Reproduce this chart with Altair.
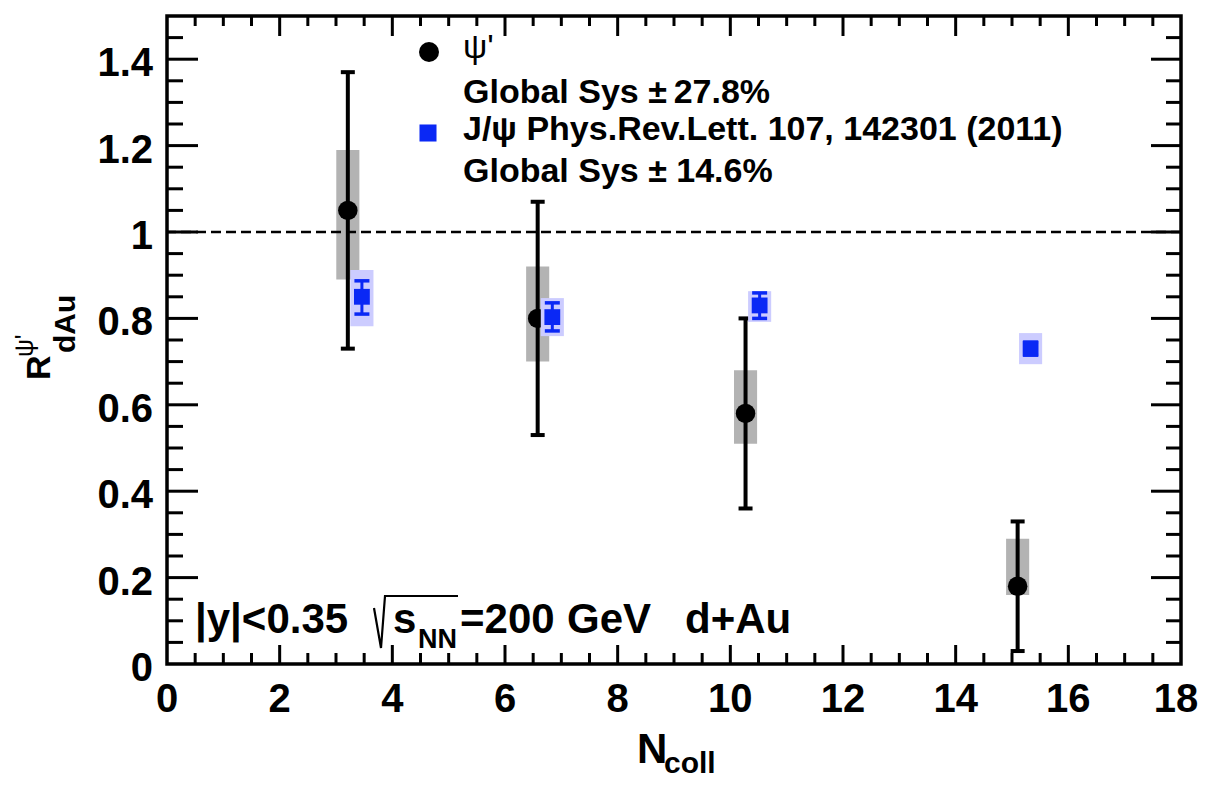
import altair as alt
import pandas as pd

# ---------------- data ----------------
ncoll_psi2s = [3.21, 6.58, 10.27, 15.10]
raa_psi2s = [1.05, 0.80, 0.58, 0.18]
stat_lo_psi2s = [0.73, 0.53, 0.36, 0.03]
stat_hi_psi2s = [1.37, 1.07, 0.80, 0.33]
sys_lo_psi2s = [0.89, 0.70, 0.51, 0.16]
sys_hi_psi2s = [1.19, 0.92, 0.68, 0.29]

ncoll_jpsi = [3.46, 6.84, 10.52, 15.33]
raa_jpsi = [0.85, 0.803, 0.83, 0.73]
stat_lo_jpsi = [0.81, 0.771, 0.80, 0.715]
stat_hi_jpsi = [0.887, 0.836, 0.859, 0.745]
sys_lo_jpsi = [0.782, 0.759, 0.792, 0.694]
sys_hi_jpsi = [0.912, 0.847, 0.863, 0.766]

x_major = [0, 2, 4, 6, 8, 10, 12, 14, 16, 18]
x_labels = ["0", "2", "4", "6", "8", "10", "12", "14", "16", "18"]
y_major = [0, 0.2, 0.4, 0.6, 0.8, 1.0, 1.2, 1.4]
y_labels = ["0", "0.2", "0.4", "0.6", "0.8", "1", "1.2", "1.4"]
unity = [1.0]

# ---------------- styling constants ----------------
W, H = 1014, 648
FONT = "Liberation Sans"
SYS_HALF = 0.205
BLUE = "#0a28f5"
LBLUE = "#ccccff"
GRAY = "#b3b3b3"

xs = alt.Scale(domain=[0, 18], nice=False, zero=False)
ys = alt.Scale(domain=[0, 1.5], nice=False, zero=False)

psi = pd.DataFrame({
    "x": ncoll_psi2s, "y": raa_psi2s,
    "lo": stat_lo_psi2s, "hi": stat_hi_psi2s,
    "slo": sys_lo_psi2s, "shi": sys_hi_psi2s,
})
psi["x1"] = psi["x"] - SYS_HALF
psi["x2"] = psi["x"] + SYS_HALF

jp = pd.DataFrame({
    "x": ncoll_jpsi, "y": raa_jpsi,
    "lo": stat_lo_jpsi, "hi": stat_hi_jpsi,
    "slo": sys_lo_jpsi, "shi": sys_hi_jpsi,
})
jp["x1"] = jp["x"] - SYS_HALF
jp["x2"] = jp["x"] + SYS_HALF

X = lambda f: alt.X(f"{f}:Q", scale=xs, axis=None)
Y = lambda f: alt.Y(f"{f}:Q", scale=ys, axis=None)

layers = []

# systematic boxes psi'
layers.append(alt.Chart(psi).mark_rect(color=GRAY, opacity=1).encode(
    x=X("x1"), x2="x2", y=Y("slo"), y2="shi"))
# stat error psi'
layers.append(alt.Chart(psi).mark_rule(color="black", strokeWidth=4).encode(
    x=X("x"), y=Y("lo"), y2="hi"))
layers.append(alt.Chart(psi).mark_tick(orient="horizontal", size=14, thickness=4,
                                       color="black", opacity=1).encode(x=X("x"), y=Y("lo")))
layers.append(alt.Chart(psi).mark_tick(orient="horizontal", size=14, thickness=4,
                                       color="black", opacity=1).encode(x=X("x"), y=Y("hi")))
layers.append(alt.Chart(psi).mark_circle(size=380, color="black", opacity=1).encode(
    x=X("x"), y=Y("y")))

# J/psi
layers.append(alt.Chart(jp).mark_rect(color=LBLUE, opacity=1).encode(
    x=X("x1"), x2="x2", y=Y("slo"), y2="shi"))
layers.append(alt.Chart(jp).mark_rule(color=BLUE, strokeWidth=3).encode(
    x=X("x"), y=Y("lo"), y2="hi"))
layers.append(alt.Chart(jp).mark_tick(orient="horizontal", size=15, thickness=3.5,
                                      color=BLUE, opacity=1).encode(x=X("x"), y=Y("lo")))
layers.append(alt.Chart(jp).mark_tick(orient="horizontal", size=15, thickness=3.5,
                                      color=BLUE, opacity=1).encode(x=X("x"), y=Y("hi")))
layers.append(alt.Chart(jp).mark_square(size=250, color=BLUE, opacity=1).encode(
    x=X("x"), y=Y("y")))

# dashed unity line
layers.append(alt.Chart(pd.DataFrame({"y": unity})).mark_rule(
    color="black", strokeWidth=2.5, strokeDash=[10, 5]).encode(y=Y("y")))

# ---------------- frame ticks ----------------
x_minor = [i * 0.5 for i in range(1, 36) if i % 4 != 0]
y_minor = [i * 0.05 for i in range(1, 30) if i % 4 != 0]
dxM = pd.DataFrame({"x": x_major[1:-1]})
dxm = pd.DataFrame({"x": x_minor})
dyM = pd.DataFrame({"y": y_major[1:]})
dym = pd.DataFrame({"y": y_minor})
TW = 3
for df, ln in ((dxM, 19), (dxm, 11)):
    layers.append(alt.Chart(df).mark_rule(color="black", strokeWidth=TW).encode(
        x=X("x"), y=alt.value(H), y2=alt.value(H - ln)))
for df, ln in ((dxM, 20), (dxm, 10)):
    layers.append(alt.Chart(df).mark_rule(color="black", strokeWidth=TW).encode(
        x=X("x"), y=alt.value(0), y2=alt.value(ln)))
for df, ln in ((dyM, 31), (dym, 16)):
    layers.append(alt.Chart(df).mark_rule(color="black", strokeWidth=TW).encode(
        y=Y("y"), x=alt.value(0), x2=alt.value(ln)))
for df, ln in ((dyM, 30), (dym, 15)):
    layers.append(alt.Chart(df).mark_rule(color="black", strokeWidth=TW).encode(
        y=Y("y"), x=alt.value(W), x2=alt.value(W - ln)))

# tick labels
xl = pd.DataFrame({"x": x_major, "t": x_labels})
layers.append(alt.Chart(xl.iloc[:-1]).mark_text(
    font=FONT, fontWeight="bold", fontSize=40, align="center", baseline="alphabetic",
    color="black").encode(x=X("x"), y=alt.value(H + 48), text="t:N"))
layers.append(alt.Chart(xl.iloc[-1:]).mark_text(
    font=FONT, fontWeight="bold", fontSize=40, align="center", baseline="alphabetic",
    dx=-5, color="black").encode(x=X("x"), y=alt.value(H + 48), text="t:N"))
layers.append(alt.Chart(pd.DataFrame({"y": y_major, "t": y_labels})).mark_text(
    font=FONT, fontWeight="bold", fontSize=40, align="right", baseline="alphabetic",
    dy=17, color="black").encode(y=Y("y"), x=alt.value(-14), text="t:N"))


def txt(t, x, y, size, weight="bold", angle=0, color="black"):
    return alt.Chart(pd.DataFrame({"t": [t]})).mark_text(
        font=FONT, fontWeight=weight, fontSize=size, align="left",
        baseline="alphabetic", angle=angle, color=color).encode(
        x=alt.value(x), y=alt.value(y), text="t:N")


# legend
one = pd.DataFrame({"a": [0]})
layers.append(alt.Chart(one).mark_circle(size=400, color="black", opacity=1).encode(
    x=alt.value(262), y=alt.value(36)))
layers.append(alt.Chart(one).mark_square(size=290, color=BLUE, opacity=1).encode(
    x=alt.value(261), y=alt.value(117)))
layers.append(txt("ψ'", 296, 42, 34, weight="normal"))
layers.append(txt("Global Sys ±\u200927.8%", 296, 87, 34))
layers.append(txt("J/ψ Phys.Rev.Lett. 107, 142301 (2011)", 296, 124, 34))
layers.append(txt("Global Sys ± 14.6%", 296, 166, 34))

# bottom-left annotation
layers.append(txt("|y|<0.35", 28, 617, 42))
radical = pd.DataFrame({"px": [207, 214, 218, 291], "py": [592, 632, 580, 580],
                        "o": [0, 1, 2, 3]})
layers.append(alt.Chart(radical).mark_line(color="black", strokeWidth=2.2,
                                           strokeJoin="miter").encode(
    x=alt.X("px:Q", scale=None, axis=None), y=alt.Y("py:Q", scale=None, axis=None),
    order="o:Q"))
layers.append(txt("s", 226, 617, 42))
layers.append(txt("NN", 251, 632, 27))
layers.append(txt("=200", 293, 617, 42))
layers.append(txt("GeV", 400, 617, 42))
layers.append(txt("d+Au", 518, 617, 42))

# axis titles
layers.append(txt("N", 470, 747, 42))
layers.append(txt("coll", 497, 757, 30))
layers.append(txt("R", -117, 364, 34, angle=270))
layers.append(txt("dAu", -92, 337, 30, angle=270))
layers.append(txt("ψ'", -134, 341, 25, weight="normal", angle=270))

chart = alt.layer(*layers).properties(
    width=W, height=H,
    autosize=alt.AutoSizeParams(type="none"),
    padding={"left": 159, "top": 8, "right": 17, "bottom": 118},
    background="white",
).configure_view(stroke="black", strokeWidth=3.5)

chart.save("out.html", embed_options={"renderer": "svg", "actions": False})
